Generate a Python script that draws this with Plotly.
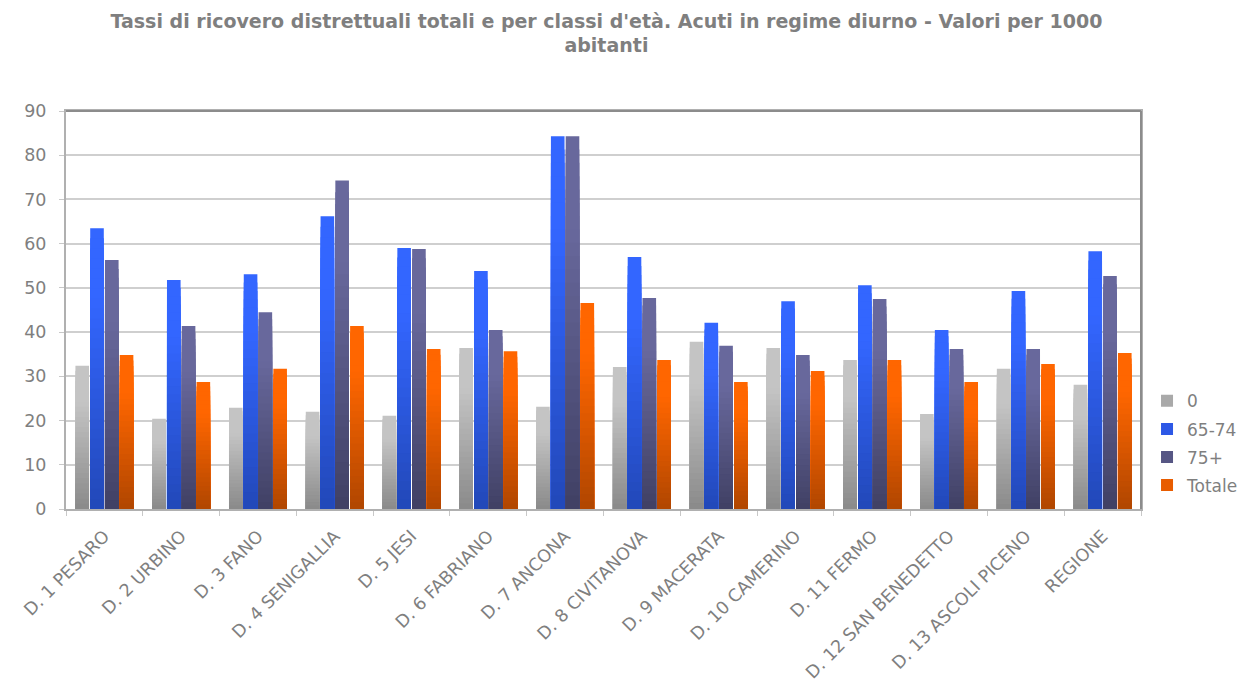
import plotly.graph_objects as go

categories = ["D. 1 PESARO", "D. 2 URBINO", "D. 3 FANO", "D. 4 SENIGALLIA", "D. 5 JESI",
              "D. 6 FABRIANO", "D. 7 ANCONA", "D. 8 CIVITANOVA", "D. 9 MACERATA",
              "D. 10 CAMERINO", "D. 11 FERMO", "D. 12 SAN BENEDETTO", "D. 13 ASCOLI PICENO",
              "REGIONE"]

s_0 = [32.4, 20.4, 22.9, 22.0, 21.1, 36.4, 23.1, 32.1, 37.8, 36.4, 33.7, 21.5, 31.7, 28.1]
s_65_74 = [63.5, 51.8, 53.1, 66.2, 59.0, 53.8, 84.3, 57.0, 42.1, 47.0, 50.6, 40.5, 49.3, 58.3]
s_75 = [56.3, 41.4, 44.5, 74.3, 58.8, 40.5, 84.3, 47.7, 36.9, 34.8, 47.5, 36.2, 36.2, 52.7]
s_tot = [34.8, 28.7, 31.7, 41.4, 36.2, 35.7, 46.6, 33.7, 28.7, 31.2, 33.7, 28.7, 32.8, 35.3]

series_names = ["0", "65-74", "75+", "Totale"]
series_values = [s_0, s_65_74, s_75, s_tot]
# (top colour, bottom colour, legend colour)
series_colors = [
    ((196, 196, 196), (138, 138, 138), "#a9a9a9"),
    ((51, 102, 255), (34, 72, 184), "#2d58e6"),
    ((104, 104, 156), (64, 64, 100), "#565684"),
    ((255, 102, 0), (176, 70, 0), "#e85c00"),
]

STEPS = 28


def lerp(c1, c2, t):
    return "rgb(%d,%d,%d)" % tuple(round(a + (b - a) * t) for a, b in zip(c1, c2))


fig = go.Figure()
for si, (name, vals, (top, bot, legc)) in enumerate(zip(series_names, series_values, series_colors)):
    og = str(si)
    # legend-only trace
    fig.add_trace(go.Bar(x=categories, y=[None] * len(categories), name=name,
                         offsetgroup=og, legendgroup=og,
                         marker=dict(color=legc, line=dict(width=0)),
                         showlegend=True, legendrank=si + 1, hoverinfo="skip"))
    for k in range(STEPS):
        f_hi = (STEPS - k) / STEPS
        f_lo = (STEPS - k - 1) / STEPS
        fm = (f_hi + f_lo) / 2  # fraction from bottom
        t = min(1.0, fm / 0.75)
        col = lerp(bot, top, t)
        fig.add_trace(go.Bar(x=categories, y=[v * f_hi for v in vals], name=name,
                             offsetgroup=og, legendgroup=og,
                             marker=dict(color=col, line=dict(width=0)),
                             showlegend=False, hoverinfo="skip"))

font_fam = "DejaVu Sans, Verdana, sans-serif"
fig.update_layout(
    width=1239, height=674,
    paper_bgcolor="white", plot_bgcolor="white",
    margin=dict(l=58, r=106, t=103, b=173, autoexpand=False),
    barmode="group", bargap=0.23, bargroupgap=0.08,
    title=dict(text="Tassi di ricovero distrettuali totali e per classi d'età. Acuti in regime diurno - Valori per 1000<br>abitanti",
               x=0.483, xanchor="center", y=0.971, yanchor="middle",
               font=dict(family=font_fam, size=19, color="#7f7f7f", weight="bold")),
    font=dict(family=font_fam, color="#7f7f7f"),
    legend=dict(x=1.0056, xanchor="left", y=0.316, yanchor="top",
                font=dict(family=font_fam, size=17, color="#7f7f7f"),
                itemclick=False, tracegroupgap=3, bgcolor="rgba(0,0,0,0)"),
    xaxis=dict(tickangle=-45, tickfont=dict(size=17.5, color="#7f7f7f"),
               showline=True, linecolor="#b0b0b0", linewidth=2, mirror=True,
               ticks="outside", tickson="boundaries", ticklen=5, tickcolor="#c8c8c8",
               ticklabelstandoff=8, showgrid=False),
    yaxis=dict(range=[0, 90], dtick=10, tickfont=dict(size=17.5, color="#7f7f7f"),
               showline=True, linecolor="#b0b0b0", linewidth=2, mirror=True,
               ticks="outside", ticklen=5, tickcolor="#c8c8c8", ticklabelstandoff=9,
               showgrid=True, gridcolor="#cfcfcf", gridwidth=1.5, zeroline=False),
    shapes=[
        dict(type="line", xref="paper", yref="paper", x0=0, x1=1, y0=1, y1=1,
             line=dict(color="#8c8c8c", width=2)),
        dict(type="line", xref="paper", yref="paper", x0=1, x1=1, y0=0, y1=1,
             line=dict(color="#8c8c8c", width=2)),
    ],
)

fig.write_html("out.html")
